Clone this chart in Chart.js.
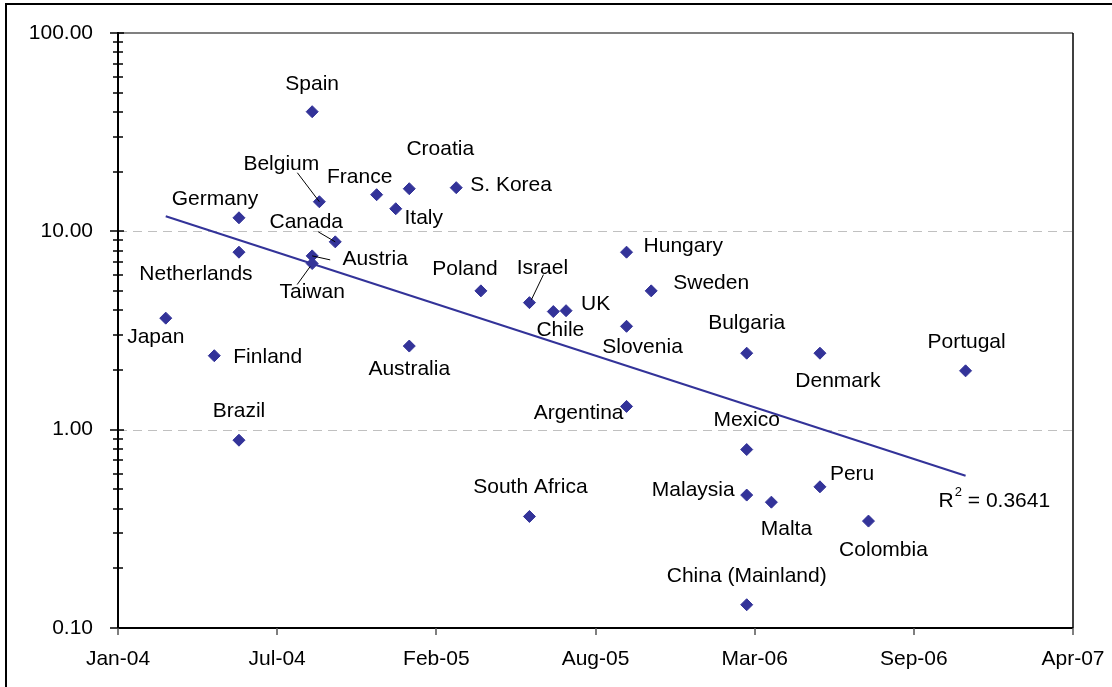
<!DOCTYPE html>
<html>
<head>
<meta charset="utf-8">
<script src="https://cdn.jsdelivr.net/npm/chart.js@4/dist/chart.umd.min.js"></script>
<style>
  html, body { margin: 0; padding: 0; background: #ffffff; }
  #wrap { position: relative; width: 1112px; height: 687px; overflow: hidden; }
  canvas { display: block; }
</style>
</head>
<body>
<div id="wrap"><canvas id="chart" width="1112" height="687"></canvas></div>
<script>
// Country, date of the observation, and the plotted value (log scale)
const countries = [
  'Japan', 'Finland', 'Germany', 'Netherlands', 'Brazil',
  'Spain', 'Austria', 'Taiwan', 'Belgium', 'Canada',
  'France', 'Italy', 'Croatia', 'Australia', 'S. Korea',
  'Poland', 'Israel', 'South Africa', 'Chile', 'UK',
  'Hungary', 'Slovenia', 'Argentina', 'Sweden',
  'Bulgaria', 'Mexico', 'Malaysia', 'China (Mainland)',
  'Malta', 'Denmark', 'Peru', 'Colombia', 'Portugal'
];
const dates = [
  '2004-03-01', '2004-05-01', '2004-06-01', '2004-06-01', '2004-06-01',
  '2004-09-01', '2004-09-01', '2004-09-01', '2004-09-10', '2004-09-30',
  '2004-11-21', '2004-12-15', '2005-01-01', '2005-01-01', '2005-03-01',
  '2005-04-01', '2005-06-01', '2005-06-01', '2005-07-01', '2005-07-17',
  '2005-10-01', '2005-10-01', '2005-10-01', '2005-11-01',
  '2006-03-01', '2006-03-01', '2006-03-01', '2006-03-01',
  '2006-04-01', '2006-06-01', '2006-06-01', '2006-08-01', '2006-12-01'
];
const values = [
  3.65, 2.36, 11.7, 7.85, 0.885,
  40.1, 7.52, 6.88, 14.1, 8.85,
  15.3, 13.0, 16.4, 2.64, 16.6,
  5.01, 4.37, 0.365, 3.94, 3.98,
  7.85, 3.32, 1.31, 5.01,
  2.43, 0.794, 0.468, 0.131,
  0.431, 2.43, 0.515, 0.346, 1.98
];
// Axis range and tick labels
const xTickLabels = ['Jan-04', 'Jul-04', 'Feb-05', 'Aug-05', 'Mar-06', 'Sep-06', 'Apr-07'];
const xTickStepDays = 200;
const yTickLabels = ['0.10', '1.00', '10.00', '100.00'];
const yTickValues = [0.1, 1, 10, 100];
const rSquaredText = '0.3641';

// Label placement: [dx, dy, align] relative to the marker; optional leader [x1, y1, x2, y2]
const labelPlacement = [
  [-10, 19, 'center'], [19, 1, 'left'], [-24, -19, 'center'], [-43, 22, 'center'], [0, -29, 'center'],
  [0, -28, 'center'], [63, 3, 'center', [0, 0, 18, 4]], [0, 29, 'center', [-2, 3, -15, 21]],
  [-38, -38, 'center', [-22, -29, 0, 0]], [-29, -20, 'center', [-17, -10, 0, 0]],
  [-17, -17, 'center'], [28, 9, 'center'], [31, -40, 'center'], [0, 23, 'center'], [14, -2, 'left'],
  [-16, -22, 'center'], [13, -34, 'center', [14, -28, 2, -3]], [1, -29, 'center'], [7, 19, 'center'], [15, -6, 'left'],
  [17, -6, 'left'], [16, 21, 'center'], [-3, 7, 'right'], [22, -8, 'left'],
  [0, -30, 'center'], [0, -29, 'center'], [-12, -5, 'right'], [0, -29, 'center'],
  [15, 27, 'center'], [18, 28, 'center'], [10, -13, 'left'], [15, 29, 'center'], [1, -29, 'center']
];

const ORIGIN = Date.UTC(2004, 0, 1);
const DAY = 86400000;
const MONTHS = ['Jan', 'Feb', 'Mar', 'Apr', 'May', 'Jun', 'Jul', 'Aug', 'Sep', 'Oct', 'Nov', 'Dec'];
const dayOf = s => (Date.parse(s) - ORIGIN) / DAY;
const formatDay = v => {
  const d = new Date(ORIGIN + v * DAY);
  return MONTHS[d.getUTCMonth()] + '-' + String(d.getUTCFullYear() % 100).padStart(2, '0');
};

const points = countries.map((c, i) => ({ x: dayOf(dates[i]), y: values[i] }));

// Exponential trend (least squares on ln y), spanning the observed dates
const n = points.length;
let sx = 0, sy = 0, sxx = 0, sxy = 0;
points.forEach(p => { const ly = Math.log(p.y); sx += p.x; sy += ly; sxx += p.x * p.x; sxy += p.x * ly; });
const slope = (n * sxy - sx * sy) / (n * sxx - sx * sx);
const intercept = (sy - slope * sx) / n;
const xMin = Math.min(...points.map(p => p.x));
const xMax = Math.max(...points.map(p => p.x));
const trend = [xMin, xMax].map(x => ({ x, y: Math.exp(intercept + slope * x) }));

const FONT = "'Liberation Sans', Arial, sans-serif";
const FONT_SIZE = 21;
const NAVY = '#333399';

const decorations = {
  id: 'decorations',
  beforeDraw(chart) {
    const ctx = chart.ctx;
    ctx.save();
    ctx.fillStyle = '#ffffff';
    ctx.fillRect(0, 0, chart.width, chart.height);
    ctx.strokeStyle = '#000000';
    ctx.lineWidth = 2;
    ctx.strokeRect(6, 4, chart.width + 20, chart.height + 20);
    ctx.restore();
  },
  beforeDatasetsDraw(chart) {
    const { ctx, chartArea: a, scales: { y } } = chart;
    ctx.save();
    ctx.strokeStyle = '#c0c0c0';
    ctx.lineWidth = 1;
    ctx.setLineDash([9, 6]);
    [1, 10].forEach(v => {
      const py = Math.round(y.getPixelForValue(v)) + 0.5;
      ctx.beginPath(); ctx.moveTo(a.left, py); ctx.lineTo(a.right, py); ctx.stroke();
    });
    ctx.restore();
  },
  afterDatasetsDraw(chart) {
    const { ctx, chartArea: a, scales: { x, y } } = chart;
    ctx.save();
    // plot frame
    ctx.lineWidth = 2;
    ctx.strokeStyle = '#808080';
    ctx.beginPath(); ctx.moveTo(a.left, a.top); ctx.lineTo(a.right, a.top); ctx.stroke();
    ctx.strokeStyle = '#000000';
    ctx.lineWidth = 1.5;
    ctx.beginPath(); ctx.moveTo(a.right, a.top); ctx.lineTo(a.right, a.bottom); ctx.stroke();
    ctx.lineWidth = 2;
    ctx.beginPath(); ctx.moveTo(a.left, a.top - 1); ctx.lineTo(a.left, a.bottom); ctx.lineTo(a.right, a.bottom); ctx.stroke();
    // y tick marks (major and minor, crossing the axis)
    ctx.lineWidth = 1.5;
    for (let e = -1; e <= 2; e++) {
      for (let m = 1; m <= 9; m++) {
        const v = m * Math.pow(10, e);
        if (v < 0.1 - 1e-9 || v > 100 + 1e-9) continue;
        const py = Math.round(y.getPixelForValue(v));
        const major = m === 1;
        ctx.beginPath();
        ctx.moveTo(a.left - (major ? 8 : 5), py);
        ctx.lineTo(a.left + (major ? 6 : 5), py);
        ctx.stroke();
      }
    }
    // x tick marks (outside)
    ctx.strokeStyle = '#555555';
    ctx.lineWidth = 1.5;
    x.ticks.forEach(t => {
      const px = Math.round(x.getPixelForValue(t.value));
      ctx.beginPath(); ctx.moveTo(px, a.bottom); ctx.lineTo(px, a.bottom + 7); ctx.stroke();
    });

    // country labels
    const meta = chart.getDatasetMeta(0);
    ctx.font = FONT_SIZE + 'px ' + FONT;
    ctx.fillStyle = '#000000';
    ctx.textBaseline = 'middle';
    ctx.strokeStyle = '#000000';
    ctx.lineWidth = 1;
    meta.data.forEach((el, i) => {
      const pl = labelPlacement[i];
      ctx.textAlign = pl[2];
      ctx.fillText(countries[i], el.x + pl[0], el.y + pl[1]);
      if (pl[3]) {
        const L = pl[3];
        ctx.beginPath();
        ctx.moveTo(el.x + L[0], el.y + L[1]);
        ctx.lineTo(el.x + L[2], el.y + L[3]);
        ctx.stroke();
      }
    });

    // R-squared label next to the trend end
    const tx = x.getPixelForValue(trend[1].x) - 27;
    const ty = y.getPixelForValue(trend[1].y) + 25;
    ctx.textAlign = 'left';
    ctx.font = FONT_SIZE + 'px ' + FONT;
    ctx.fillText('R', tx, ty);
    const rw = ctx.measureText('R').width;
    ctx.font = '13px ' + FONT;
    ctx.fillText('2', tx + rw + 1, ty - 8);
    const sw = ctx.measureText('2').width;
    ctx.font = FONT_SIZE + 'px ' + FONT;
    ctx.fillText(' = ' + rSquaredText, tx + rw + 1 + sw, ty);
    ctx.restore();
  }
};

Chart.defaults.font.family = FONT;
Chart.defaults.font.size = FONT_SIZE;
Chart.defaults.color = '#000000';

new Chart(document.getElementById('chart'), {
  type: 'scatter',
  data: {
    datasets: [
      {
        data: points,
        pointStyle: 'rectRot',
        pointRadius: 6,
        pointBackgroundColor: NAVY,
        pointBorderColor: NAVY,
        pointBorderWidth: 1,
        order: 1
      },
      {
        type: 'line',
        data: trend,
        borderColor: NAVY,
        borderWidth: 2,
        pointRadius: 0,
        fill: false,
        order: 2
      }
    ]
  },
  options: {
    responsive: false,
    animation: false,
    events: [],
    layout: { padding: { top: 33, right: 39, left: 0, bottom: 0 } },
    plugins: { legend: { display: false }, tooltip: { enabled: false } },
    scales: {
      x: {
        type: 'linear',
        min: 0,
        max: xTickStepDays * (xTickLabels.length - 1),
        grid: { display: false, drawTicks: false },
        border: { display: false },
        ticks: {
          stepSize: xTickStepDays,
          padding: 19,
          maxRotation: 0,
          autoSkip: false,
          callback: (v, i) => xTickLabels[i] !== undefined ? xTickLabels[i] : formatDay(v)
        },
        afterFit: s => { s.height = 59; s.paddingLeft = 0; s.paddingRight = 0; }
      },
      y: {
        type: 'logarithmic',
        min: 0.1,
        max: 100,
        grid: { display: false, drawTicks: false },
        border: { display: false },
        ticks: {
          padding: 25,
          autoSkip: false,
          callback: v => {
            const k = yTickValues.findIndex(t => Math.abs(t - v) < 1e-9 * Math.max(1, t));
            return k >= 0 ? yTickLabels[k] : '';
          }
        },
        afterFit: s => { s.width = 118; s.paddingTop = 0; s.paddingBottom = 0; }
      }
    }
  },
  plugins: [decorations]
});
</script>
</body>
</html>
